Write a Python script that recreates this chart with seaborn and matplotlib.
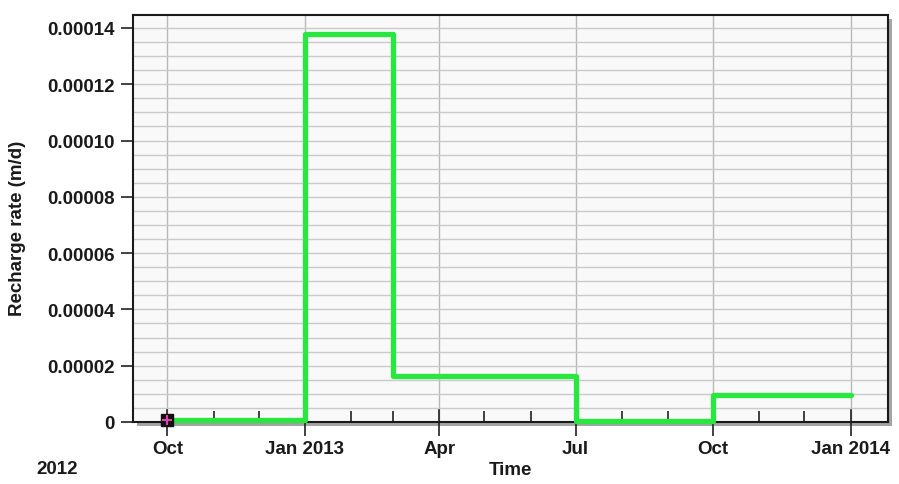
import numpy as np
import pandas as pd
import matplotlib
matplotlib.use("Agg")
import matplotlib.pyplot as plt
import matplotlib.dates as mdates
from matplotlib.ticker import MultipleLocator, FixedLocator, FixedFormatter
from matplotlib.patches import Rectangle
import seaborn as sns

# Stress-period start dates and the recharge rate applied from each date onward
period_start = ["2012-10-01", "2013-01-01", "2013-03-01", "2013-07-01", "2013-10-01", "2014-01-01"]
recharge_rate = [0.0000007, 0.000138, 0.0000163, 0.0000005, 0.0000096, 0.0000096]

# Axis ticks
x_tick_dates = ["2012-10-01", "2013-01-01", "2013-04-01", "2013-07-01", "2013-10-01", "2014-01-01"]
x_tick_labels = ["Oct", "Jan 2013", "Apr", "Jul", "Oct", "Jan 2014"]
y_ticks = [0, 0.00002, 0.00004, 0.00006, 0.00008, 0.00010, 0.00012, 0.00014]
y_tick_labels = ["0", "0.00002", "0.00004", "0.00006", "0.00008", "0.00010", "0.00012", "0.00014"]

df = pd.DataFrame({"date": pd.to_datetime(period_start), "rate": recharge_rate})

sns.set_theme(style="white")
plt.rcParams["font.family"] = ["Liberation Sans", "DejaVu Sans"]
plt.rcParams["font.weight"] = "bold"

FS = 13.5
W, H = 899, 485
fig = plt.figure(figsize=(W / 100, H / 100), dpi=100)
fig.patch.set_facecolor("white")

left, right, top, bottom = 133, 888, 16, 423
ax = fig.add_axes([left / W, (H - bottom) / H, (right - left) / W, (bottom - top) / H])
ax.set_facecolor("#f9f9f9")
ax.set_zorder(1)

# drop shadow behind the plotting frame
shadow = Rectangle(((left + 4) / W, (H - bottom - 4) / H), (right - left) / W, (bottom - top) / H,
                   transform=fig.transFigure, facecolor="#a4a4a4", edgecolor="none", zorder=0)
fig.patches.append(shadow)

sns.lineplot(data=df, x="date", y="rate", drawstyle="steps-post", color="#28e840",
             linewidth=3.8, ax=ax, zorder=4)
for ln in ax.lines:
    ln.set_solid_joinstyle("round")
    ln.set_solid_capstyle("round")
    ln.set_clip_on(False)

# marker at the first observation
x0 = mdates.date2num(df["date"].iloc[0])
ax.plot([x0], [df["rate"].iloc[0]], marker="s", ms=9, color="#111111", clip_on=False, zorder=6)
ax.plot([x0], [df["rate"].iloc[0]], marker="+", ms=7, mew=1.5, color="#e040b0", clip_on=False, zorder=7)

ax.set_xlim(mdates.date2num(pd.Timestamp("2012-09-08")), mdates.date2num(pd.Timestamp("2014-01-26")))
ax.set_ylim(0, 0.0001446)

# x ticks: quarterly labelled, monthly minor
ax.xaxis.set_major_locator(FixedLocator(mdates.date2num(pd.to_datetime(x_tick_dates))))
ax.xaxis.set_major_formatter(FixedFormatter(x_tick_labels))
ax.xaxis.set_minor_locator(mdates.MonthLocator())
ax.tick_params(axis="x", which="major", direction="inout", length=20, width=1.2,
               color="#222222", labelsize=FS, pad=3, bottom=True)
ax.tick_params(axis="x", which="minor", direction="in", length=8, width=1.2,
               color="#222222", bottom=True)

ax.yaxis.set_major_locator(FixedLocator(y_ticks))
ax.yaxis.set_major_formatter(FixedFormatter(y_tick_labels))
ax.yaxis.set_minor_locator(MultipleLocator(0.000005))
ax.tick_params(axis="y", which="major", direction="out", length=9, width=1.2,
               color="#222222", labelsize=FS, pad=4, left=True)
ax.tick_params(axis="y", which="minor", length=0)

for lab in ax.get_xticklabels() + ax.get_yticklabels():
    lab.set_fontweight("bold")
    lab.set_color("#1a1a1a")

ax.grid(True, axis="x", which="major", color="#b8b8b8", linewidth=1.0)
ax.grid(True, axis="y", which="both", color="#cacaca", linewidth=1.0)
ax.set_axisbelow(True)

for s in ax.spines.values():
    s.set_visible(True)
    s.set_color("#1a1a1a")
    s.set_linewidth(1.5)

ax.set_xlabel("Time", fontsize=FS, fontweight="bold", color="#1a1a1a")
ax.xaxis.set_label_coords(0.5, -(471 - bottom) / (bottom - top))
ax.xaxis.label.set_va("center")
ax.set_ylabel("Recharge rate (m/d)", fontsize=FS, fontweight="bold", color="#1a1a1a")
ax.yaxis.set_label_coords(-(left - 18) / (right - left), (bottom - 228) / (bottom - top))
ax.yaxis.label.set_va("center")

fig.text(57 / W, 1 - 470 / H, "2012", ha="center", va="center", fontsize=FS,
         fontweight="bold", color="#1a1a1a")

fig.savefig("out.png", dpi=100)
